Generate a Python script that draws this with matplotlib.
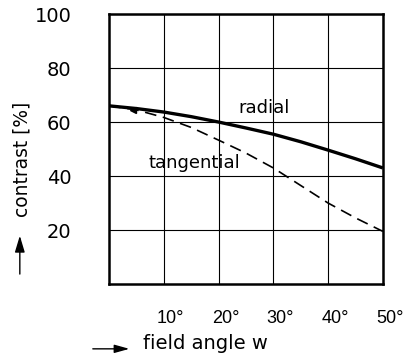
import matplotlib
matplotlib.use("Agg")
import matplotlib.pyplot as plt
import matplotlib.transforms as mtransforms
from matplotlib.patches import FancyArrowPatch

plt.rcParams["font.family"] = ["DejaVu Sans"]

# field angle w in degrees, contrast in percent
angle = [0, 5, 10, 15, 20, 25, 30, 35, 40, 45, 50]
radial = [66, 65, 63.7, 62, 60, 57.8, 55.5, 52.7, 49.6, 46.4, 43]
tangential = [66, 64.5, 61.7, 58, 53.3, 48.5, 43, 36.5, 30, 24.5, 19.5]

x_ticks = [10, 20, 30, 40, 50]
x_labels = ["10°", "20°", "30°", "40°", "50°"]
y_ticks = [20, 40, 60, 80, 100]
y_labels = ["20", "40", "60", "80", "100"]

fig = plt.figure(figsize=(4.13, 3.6), dpi=100)
ax = fig.add_axes([0.264, 0.211, 0.663, 0.750])

ax.plot(angle, radial, color="black", lw=2.4, solid_capstyle="butt")
ax.plot(angle, tangential, color="black", lw=1.2, dashes=(7, 4))
# little arrow tip at the start of the dashed curve
ax.plot([4.3], [64.6], marker="<", color="black", ms=4)

ax.set_xlim(0, 50)
ax.set_ylim(0, 100)
ax.set_xticks(x_ticks)
ax.set_xticklabels(x_labels, fontsize=13, family="Liberation Sans")
ax.set_yticks(y_ticks)
ax.set_yticklabels(y_labels, fontsize=14)
ax.tick_params(axis="both", length=0)
ax.tick_params(axis="y", pad=27)
ax.tick_params(axis="x", pad=19)
ax.grid(True, color="black", lw=0.8)
for s in ax.spines.values():
    s.set_linewidth(1.8)

# labels sit a bit right of their grid lines in the original
shift = mtransforms.ScaledTranslation(5 / 72, 0, fig.dpi_scale_trans)
for lab in ax.get_xticklabels():
    lab.set_transform(lab.get_transform() + shift)

ax.text(28.3, 65.2, "radial", fontsize=13, ha="center", va="center")
ax.text(15.5, 44.8, "tangential", fontsize=13, ha="center", va="center")

# axis captions with arrows
fig.text(0.053, 0.556, "contrast [%]", rotation=90, fontsize=13.4,
         ha="center", va="center")
fig.patches.append(FancyArrowPatch(
    (0.048, 0.231), (0.048, 0.353), transform=fig.transFigure,
    arrowstyle="-|>,head_length=10,head_width=3", color="black", lw=1.0))
fig.text(0.346, 0.045, "field angle w", fontsize=14, ha="left", va="center")
fig.patches.append(FancyArrowPatch(
    (0.218, 0.031), (0.32, 0.031), transform=fig.transFigure,
    arrowstyle="-|>,head_length=9,head_width=2.5", color="black", lw=1.0))

fig.savefig("out.png", dpi=100)
